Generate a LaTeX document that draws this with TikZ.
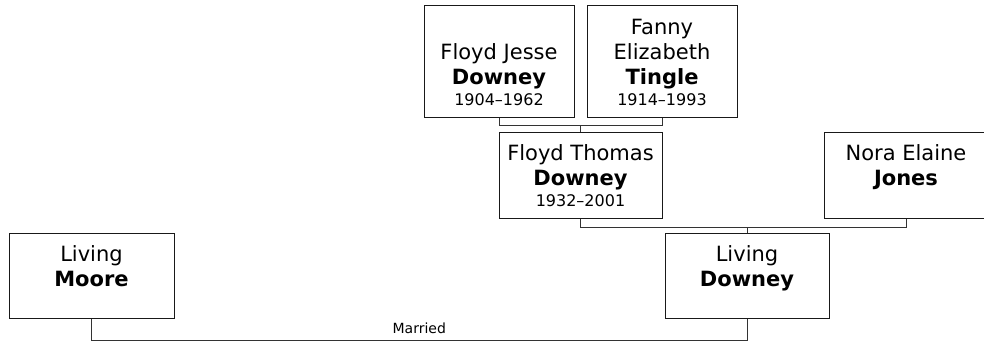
\documentclass[tikz,border=0pt]{standalone}
\usepackage{fontspec}
\setmainfont{DejaVu Sans}
\usetikzlibrary{positioning}

\tikzset{
  person/.style={draw=black!90, line width=1pt, fill=white, inner sep=0pt},
  persontxt/.style={align=center, inner sep=0pt, font=\fontsize{21}{25}\selectfont},
  link/.style={draw=black!80, line width=1pt},
}
\newcommand{\yrs}[1]{{\fontsize{16}{16}\selectfont #1}}

\begin{document}
\begin{tikzpicture}[x=1pt, y=-1pt]
        \useasboundingbox (0,0) rectangle (984,341);

        % Abuelos
        \node[person, minimum width=150pt, minimum height=112pt] (fj) at (499,61) {};
        \node[person, minimum width=150pt, minimum height=112pt] (fe) at (662,61) {};
        \node[persontxt, below=39pt of fj.north] (fjtxt) {Floyd Jesse\\\textbf{Downey}\\[-4pt]\yrs{1904–1962}};
        \node[persontxt, below=14pt of fe.north] (fetxt) {Fanny\\Elizabeth\\\textbf{Tingle}\\[-4pt]\yrs{1914–1993}};

        % Padres
        \node[person, minimum width=163pt, minimum height=86pt] (ft) at (580.5,175) {};
        \node[person, minimum width=164pt, minimum height=86pt] (ne) at (906,175) {};
        \node[persontxt, below=13pt of ft.north] (fttxt) {Floyd Thomas\\\textbf{Downey}\\[-4pt]\yrs{1932–2001}};
        \node[persontxt, below=13pt of ne.north] (netxt) {Nora Elaine\\\textbf{Jones}};

        % Pareja
        \node[person, minimum width=165pt, minimum height=85pt] (lm) at (91.5,275.5) {};
        \node[person, minimum width=164pt, minimum height=85pt] (ld) at (747,275.5) {};
        \node[persontxt, below=13pt of lm.north] (lmtxt) {Living\\\textbf{Moore}};
        \node[persontxt, below=13pt of ld.north] (ldtxt) {Living\\\textbf{Downey}};

        % Uniones
        \draw[link] (fj.south) -- ++(0,8) coordinate (u1) -- (u1 -| fe.south) -- (fe.south);
        \draw[link] (ft.north) -- (ft.north |- u1);
        \draw[link] (ft.south) -- ++(0,9) coordinate (u2) -- (u2 -| ne.south) -- (ne.south);
        \draw[link] (ld.north) -- (ld.north |- u2);
        \draw[link] (lm.south) -- ++(0,21.5) coordinate (u3) -- (u3 -| ld.south)
              node[midway, above=2pt, font=\fontsize{14}{14}\selectfont] (mar) {Married} -- (ld.south);
\end{tikzpicture}
\end{document}
